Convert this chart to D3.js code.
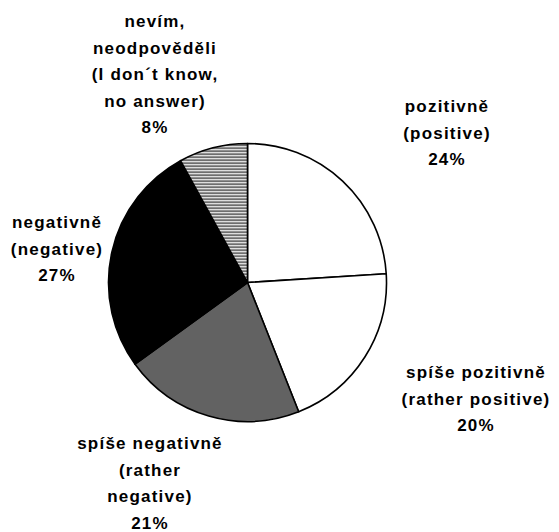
<!DOCTYPE html>
<html>
<head>
<meta charset="utf-8">
<script src="https://cdn.jsdelivr.net/npm/d3@7"></script>
<style>
  body { margin: 0; background: #fff; }
  svg { display: block; }
</style>
</head>
<body>
<div id="chart"></div>
<script>
// data, in order clockwise from 12 o'clock
const categories = ["pozitivně", "spíše pozitivně", "spíše negativně", "negativně", "nevím"];
const values = [24, 20, 21, 27, 8];
const labelLines = [
    ["pozitivně", "(positive)"],
    ["spíše pozitivně", "(rather positive)"],
    ["spíše negativně", "(rather", "negative)"],
    ["negativně", "(negative)"],
    ["nevím,", "neodpověděli", "(I don´t know,", "no answer)"]
];
const fills = ["#fff", "#fff", "url(#dither)", "#000", "url(#hatch)"];

// where each label block sits (center x, first baseline)
const labelPos = [[447, 112], [476, 378], [150, 449], [57, 228], [155, 27]];

const width = 559,
    height = 532,
    cx = 247.5,
    cy = 282.5,
    radius = 139,
    lineHeight = 26.5;

const svg = d3.select("#chart")
    .append("svg")
    .attr("width", width)
    .attr("height", height);

const defs = svg.append("defs");

// horizontal lines for "don't know"
const hatch = defs.append("pattern")
    .attr("id", "hatch")
    .attr("patternUnits", "userSpaceOnUse")
    .attr("width", 6)
    .attr("height", 3);
hatch.append("rect").attr("width", 6).attr("height", 3).attr("fill", "#fff");
hatch.append("rect").attr("width", 6).attr("height", 1.3).attr("fill", "#222");

// dark grey dither for "rather negative"
const dither = defs.append("pattern")
    .attr("id", "dither")
    .attr("patternUnits", "userSpaceOnUse")
    .attr("width", 2)
    .attr("height", 2);
dither.append("rect").attr("width", 2).attr("height", 2).attr("fill", "#333");
dither.append("rect").attr("width", 1).attr("height", 1).attr("fill", "#a8a8a8");
dither.append("rect").attr("x", 1).attr("y", 1).attr("width", 1).attr("height", 1).attr("fill", "#7a7a7a");

const arcs = d3.pie().sort(null).value(d => d)(values);
const arc = d3.arc().innerRadius(0).outerRadius(radius);

svg.append("g")
    .attr("transform", `translate(${cx},${cy})`)
    .attr("stroke", "#000")
    .attr("stroke-width", 1.6)
    .attr("stroke-linejoin", "round")
    .selectAll("path")
    .data(arcs)
    .join("path")
    .attr("fill", (d, i) => fills[i])
    .attr("d", arc)
    .append("title")
    .text((d, i) => `${categories[i]}: ${values[i]}%`);

svg.append("g")
    .attr("font-family", "'Liberation Sans', Arial, sans-serif")
    .attr("font-weight", "bold")
    .attr("font-size", 17)
    .attr("letter-spacing", 1.2)
    .attr("text-anchor", "middle")
    .attr("fill", "#000")
    .selectAll("text")
    .data(arcs)
    .join("text")
    .attr("transform", (d, i) => `translate(${labelPos[i][0]},${labelPos[i][1]})`)
    .selectAll("tspan")
    .data((d, i) => labelLines[i].concat(`${values[i]}%`))
    .join("tspan")
    .attr("x", 0)
    .attr("y", (_, j) => j * lineHeight)
    .text(t => t);
</script>
</body>
</html>
